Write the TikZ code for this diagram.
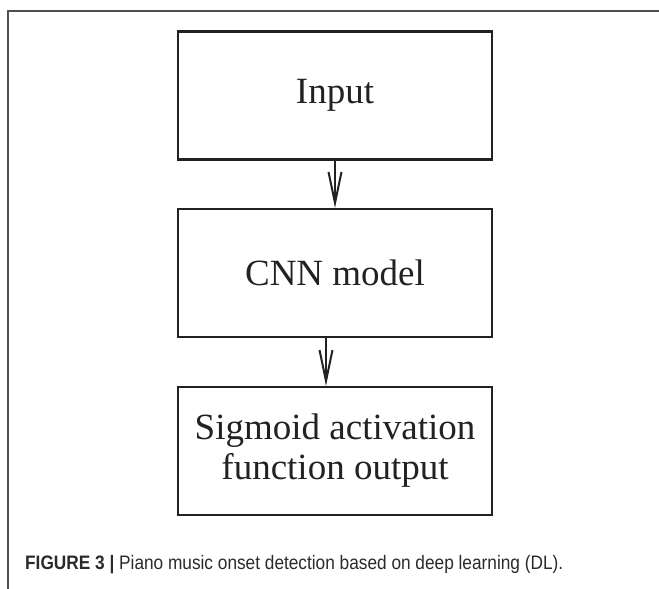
\documentclass[tikz,border=0pt]{standalone}
\usepackage{fontspec}
\setmainfont{Liberation Serif}
\newfontfamily\capfont{Liberation Sans}
\usetikzlibrary{arrows.meta}
\definecolor{boxline}{HTML}{222222}
\definecolor{frameline}{HTML}{505050}
\definecolor{captext}{HTML}{2A2A2A}
\tikzset{
  stepbox/.style={draw=boxline, line width=2.2pt, minimum width=314pt, minimum height=128pt,
    inner sep=0pt, align=center, font=\fontsize{37}{40}\selectfont, text=boxline},
  flow/.style={draw=boxline, line width=2pt, -{Straight Barb[length=31pt,width=13pt,line width=2pt]}},
  framestyle/.style={draw=frameline, line width=1.4pt}
}
\begin{document}
\begin{tikzpicture}[x=1pt,y=-1pt]
\useasboundingbox (0,0) rectangle (659,589);
% outer frame (open at right and bottom)
\coordinate (fb) at (8,589);
\coordinate (fc) at (8,11);
\coordinate (fr) at (659,11);
\draw[framestyle] (fb) -- (fc) -- (fr);
% boxes
\node[stepbox] (in) at (335,95.5) {Input};
\node[stepbox] (cnn) at (335,273) {CNN model};
\node[stepbox] (sig) at (335,451) {Sigmoid activation\\function output};
% connectors
\draw[flow] (in.south) -- (cnn.north);
\draw[flow] ([xshift=-9pt]cnn.south) -- ([xshift=-9pt]sig.north);
% caption
\node[anchor=west, inner sep=0pt, text=captext] (cap) at (25,565)
  {\resizebox{538pt}{\height}{\capfont\fontsize{19.5}{22}\selectfont\textbf{FIGURE 3 |} Piano music onset detection based on deep learning (DL).}};
\end{tikzpicture}
\end{document}
